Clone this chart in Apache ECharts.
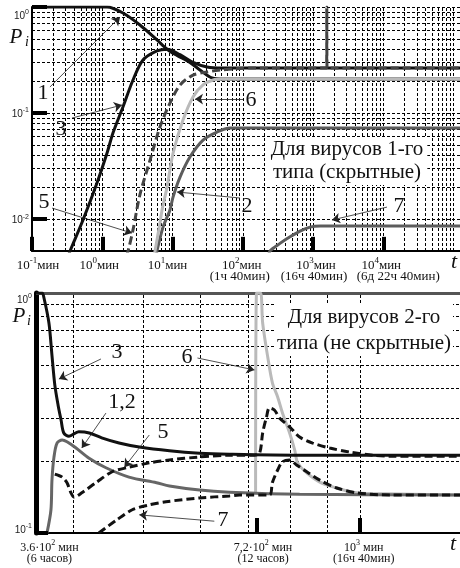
<!DOCTYPE html>
<html>
<head>
<meta charset="utf-8">
<script src="https://cdn.jsdelivr.net/npm/echarts@6/dist/echarts.min.js"></script>
<style>
  html, body { margin: 0; padding: 0; background: #fff; }
  #chart { width: 460px; height: 568px; }
</style>
</head>
<body>
<div id="chart"></div>
<script>
// верхний график: вирусы 1-го типа, t [мин] / P_i, оба оси логарифмические
var topCurve1 = [[0.1, 1], [1.17, 1], [1.97, 0.877], [3.44, 0.676], [6.01, 0.489], [8.36, 0.40], [11.6, 0.35], [17.7, 0.30], [24.6, 0.255], [36.5, 0.214], [55, 0.209], [123700, 0.209]];
var topCurve3 = [[0.33, 0.0045], [0.348, 0.005], [0.532, 0.0098], [0.841, 0.0219], [1.17, 0.042], [1.42, 0.0648], [1.97, 0.114], [2.74, 0.205], [3.8, 0.316], [6.0, 0.385], [8.36, 0.40], [12.8, 0.355], [19.6, 0.30], [31, 0.272], [50, 0.266], [123700, 0.266]];
var topCurve5 = [[2.2, 0.0045], [2.33, 0.005], [2.74, 0.0079], [3.44, 0.017], [4.79, 0.036], [6.63, 0.074], [9.2, 0.124], [12.8, 0.184], [19.6, 0.228], [31, 0.244], [47.4, 0.254], [80, 0.262], [150, 0.266], [1400, 0.266], [1560, 0.266], [1572, 1], [1585, 0.266], [1800, 0.266], [123700, 0.266]];
var topCurve6 = [[5.5, 0.0045], [5.64, 0.005], [6.63, 0.0092], [7.1, 0.0122], [8.36, 0.02], [10.2, 0.042], [14.1, 0.086], [19.6, 0.142], [27.2, 0.184], [37.8, 0.205], [52.4, 0.209], [123700, 0.209]];
var topCurve2 = [[5.9, 0.0045], [6.01, 0.005], [7.33, 0.0084], [9.2, 0.0122], [10.2, 0.0162], [12.8, 0.0249], [17.7, 0.0385], [27.2, 0.0556], [43, 0.0662], [65.8, 0.0722], [123700, 0.0722]];
var topCurve7 = [[235, 0.0045], [244, 0.005], [339, 0.0059], [471, 0.0068], [653, 0.0077], [906, 0.0084], [1259, 0.0086], [123700, 0.0086]];

// нижний график: вирусы 2-го типа
var botCurve3 = [[355, 1], [362, 1], [364, 0.96], [370, 0.75], [373.6, 0.55], [377, 0.414], [381, 0.341], [384.6, 0.296], [388, 0.261], [394.5, 0.253], [407, 0.264], [421, 0.261], [438, 0.249], [463, 0.237], [494, 0.228], [544, 0.22], [599, 0.215], [659, 0.213], [825, 0.211], [1378, 0.211]];
var botCurve12 = [[367.7, 0.1], [372.4, 0.125], [373.6, 0.166], [376, 0.207], [379.7, 0.237], [386, 0.244], [392, 0.24], [403.5, 0.226], [420.7, 0.205], [444, 0.187], [478, 0.171], [522, 0.162], [544, 0.157], [599, 0.151], [659, 0.148], [825, 0.145], [1378, 0.144]];
var botCurve5 = [[377, 0.176], [380, 0.1745], [386, 0.171], [392, 0.162], [397, 0.147], [401, 0.141], [411, 0.147], [430, 0.162], [453, 0.18], [478, 0.188], [510, 0.196], [544, 0.2015], [599, 0.2074], [659, 0.211], [714, 0.211], [726, 0.2154], [733, 0.261], [742, 0.304], [749, 0.332], [761, 0.3255], [774, 0.301], [799, 0.277], [825, 0.251], [860, 0.237], [908, 0.226], [968, 0.2175], [1043, 0.211], [1101, 0.209], [1378, 0.209]];
var botCurve7 = [[434, 0.1], [459, 0.113], [483, 0.125], [510, 0.131], [538, 0.135], [599, 0.14], [659, 0.1427], [681, 0.144], [749, 0.144], [756, 0.162], [769, 0.183], [781, 0.198], [799, 0.2015], [817, 0.192], [844, 0.18], [880, 0.166], [929, 0.154], [990, 0.147], [1101, 0.144], [1378, 0.144]];
var botCurve6 = [[716.6, 0.146], [718.8, 1], [728, 1], [733, 0.75], [745, 0.541], [756.5, 0.42], [769, 0.369], [781, 0.316], [799, 0.261], [812, 0.222], [820, 0.196], [844, 0.178], [880, 0.163], [929, 0.154], [978, 0.148], [1043, 0.146], [1378, 0.144]];

// подписи осей
var topTickValues = [0.1, 1, 10, 100, 1000, 10000];
var topTickPowers = ['-1', '0', '1', '2', '3', '4'];
var topTickNotes = ['', '', '', '(1ч 40мин)', '(16ч 40мин)', '(6д 22ч 40мин)'];
var topYTicks = [1, 0.1, 0.01];
var topYPowers = ['0', '-1', '-2'];
var botTickValues = [360, 720, 1000];
var botTickHeads = ['3.6·10', '7,2·10', '10'];
var botTickPowers = ['2', '2', '3'];
var botTickNotes = ['(6 часов)', '(12 часов)', '(16ч 40мин)'];
var botYTicks = [1, 0.1];
var botYPowers = ['0', '-1'];

// стрелки-выноски (в координатах данных)
var topArrows = [
  [[0.18, 0.176], [1.79, 0.805]],
  [[0.371, 0.0897], [1.91, 0.119]],
  [[0.193, 0.0127], [2.65, 0.00738]],
  [[91.4, 0.0158], [11.6, 0.018]],
  [[101, 0.1355], [20.9, 0.1355]],
  [[11300, 0.01297], [1862, 0.0098]]
];
var botArrows = [
  [[437, 0.531], [382, 0.438]],
  [[595, 0.536], [714, 0.478]],
  [[444, 0.316], [411, 0.226]],
  [[510, 0.256], [471, 0.188]],
  [[628, 0.112], [494, 0.119]]
];

var topGridX = [];
for (var k = -1; k <= 4; k++) {
  for (var n = 1; n <= 9; n++) topGridX.push(n * Math.pow(10, k));
}
topGridX.push(100000);
var topGridY = [0.005, 0.006, 0.007, 0.008, 0.009];
for (var k2 = -2; k2 <= -1; k2++) {
  for (var n2 = 1; n2 <= 9; n2++) topGridY.push(n2 * Math.pow(10, k2));
}
topGridY.push(1);
var botGridX = [400, 500, 600, 700, 800, 900, 1000];
var botGridY = [0.2, 0.3, 0.4, 0.5, 0.6, 0.7, 0.8, 0.9];

var BLACK = '#111';
var DARK = '#5c5c5c';
var LIGHT = '#bababa';
var SERIF = 'Liberation Serif';

function curve(data, g, color, dashed) {
  return {
    type: 'line', xAxisIndex: g, yAxisIndex: g, data: data,
    symbol: 'none', smooth: 0.3, silent: true, z: 3,
    lineStyle: { color: color, width: 3, type: dashed ? [8, 4] : 'solid' }
  };
}

function helper(g, gridX, gridY, ticks, arrows, extra) {
  var lines = gridX.map(function (v) { return { xAxis: v }; })
    .concat(gridY.map(function (v) { return { yAxis: v }; }));
  var list = [{
    type: 'line', xAxisIndex: g, yAxisIndex: g, data: [], silent: true, z: 1,
    markLine: {
      silent: true, symbol: 'none', z: 1, animation: false,
      label: { show: false },
      lineStyle: { color: '#000', width: 1, type: [3, 2] },
      data: lines.concat(extra || [])
    }
  }, {
    type: 'line', xAxisIndex: g, yAxisIndex: g, data: [], silent: true, z: 10,
    markLine: {
      silent: true, symbol: 'none', z: 10, animation: false,
      label: { show: false },
      lineStyle: { color: '#000', width: 4, type: 'solid' },
      data: ticks
    }
  }, {
    type: 'line', xAxisIndex: g, yAxisIndex: g, data: [], silent: true, z: 11,
    markLine: {
      silent: true, symbol: ['none', 'arrow'], symbolSize: 8, z: 11, animation: false,
      label: { show: false },
      itemStyle: { color: '#222' },
      lineStyle: { color: '#222', width: 0.8, type: 'solid' },
      data: arrows.map(function (a) { return [{ coord: a[0] }, { coord: a[1] }]; })
    }
  }];
  return list;
}

var topTicks = topTickValues.map(function (v) { return [{ coord: [v, 0.005] }, { coord: [v, 0.0068] }]; })
  .concat(topYTicks.map(function (v) { return [{ coord: [0.1, v] }, { coord: [0.1635, v] }]; }));
var botTicks = [720, 1000].map(function (v) { return [{ coord: [v, 0.1] }, { coord: [v, 0.1155] }]; })
  .concat([[{ coord: [355, 0.1] }, { coord: [369, 0.1] }]]);
var botFrame = [{ yAxis: 1, lineStyle: { color: '#555', width: 3, type: 'solid' } }];

var axisBase = {
  type: 'log', logBase: 10,
  axisTick: { show: false }, axisLabel: { show: false }, splitLine: { show: false }
};

var option = {
  animation: false,
  backgroundColor: '#fff',
  grid: [
    { left: 32, top: 7, width: 428, height: 244 },
    { left: 36, top: 293, width: 424, height: 240 }
  ],
  xAxis: [
    Object.assign({}, axisBase, { gridIndex: 0, min: 0.1, max: 123700,
      axisLine: { show: true, onZero: false, lineStyle: { color: '#000', width: 2 } } }),
    Object.assign({}, axisBase, { gridIndex: 1, min: 355, max: 1378,
      axisLine: { show: true, onZero: false, lineStyle: { color: '#000', width: 2 } } })
  ],
  yAxis: [
    Object.assign({}, axisBase, { gridIndex: 0, min: 0.005, max: 1,
      axisLine: { show: true, onZero: false, lineStyle: { color: '#000', width: 2 } } }),
    Object.assign({}, axisBase, { gridIndex: 1, min: 0.1, max: 1,
      axisLine: { show: true, onZero: false, lineStyle: { color: '#000', width: 5 } } })
  ],
  series: [].concat(
    helper(0, topGridX, topGridY, topTicks, topArrows),
    helper(1, botGridX, botGridY, botTicks, botArrows, botFrame),
    [
      curve(topCurve1, 0, BLACK),
      curve(topCurve3, 0, BLACK),
      curve(topCurve2, 0, DARK),
      curve(topCurve7, 0, DARK),
      curve(topCurve6, 0, LIGHT),
      curve(topCurve5, 0, '#444', true),
      curve(botCurve6, 1, LIGHT),
      curve(botCurve12, 1, '#666'),
      curve(botCurve3, 1, BLACK),
      curve(botCurve5, 1, BLACK, true),
      curve(botCurve7, 1, BLACK, true)
    ]
  )
};

var myChart = echarts.init(document.getElementById('chart'));
myChart.setOption(option);

function pix(g, x, y) {
  return myChart.convertToPixel({ gridIndex: g }, [x, y]);
}
function txt(x, y, text, style) {
  return {
    type: 'text', x: x, y: y, z: 100, silent: true,
    style: Object.assign({ text: text, fill: '#111', align: 'center', verticalAlign: 'middle',
      fontFamily: SERIF, fontSize: 13 }, style)
  };
}
function supRich(size) {
  return {
    n: { fontFamily: SERIF, fontSize: size, lineHeight: size + 3, verticalAlign: 'bottom', fill: '#111' },
    s: { fontFamily: SERIF, fontSize: size - 4, lineHeight: size - 3, verticalAlign: 'top', fill: '#111' }
  };
}
var ySupRich = {
  n: { fontFamily: 'Liberation Sans', fontSize: 10, lineHeight: 12, verticalAlign: 'bottom', fill: '#222' },
  s: { fontFamily: 'Liberation Sans', fontSize: 7, lineHeight: 8, verticalAlign: 'top', fill: '#222' }
};

var g = [];
var topBottom = pix(0, 0.1, 0.005)[1];
var topLabelDx = [6, -3, -5, -1, 3, -2];
var topNoteDx = [0, 0, 0, -3, 1, 15];
topTickValues.forEach(function (v, i) {
  var x = pix(0, v, 0.005)[0];
  g.push(txt(x + topLabelDx[i], topBottom + 13, '{n|10}{s|' + topTickPowers[i] + '}{n|мин}', { rich: supRich(13) }));
  if (topTickNotes[i]) g.push(txt(x + topNoteDx[i], topBottom + 26, topTickNotes[i]));
});
var topYDy = [8, 0, 0];
topYTicks.forEach(function (v, i) {
  var y = pix(0, 0.1, v)[1];
  g.push(txt(29, y + topYDy[i], '{n|10}{s|' + topYPowers[i] + '}', { rich: ySupRich, align: 'right' }));
});

var botBottom = pix(1, 355, 0.1)[1];
var botLabelDx = [9, 6, 4];
botTickValues.forEach(function (v, i) {
  var x = pix(1, v, 0.1)[0];
  g.push(txt(x + botLabelDx[i], botBottom + 13, '{n|' + botTickHeads[i] + '}{s|' + botTickPowers[i] + '}{n| мин}', { rich: supRich(12) }));
  g.push(txt(x + botLabelDx[i], botBottom + 26, botTickNotes[i], { fontSize: 12 }));
});
var botYDy = [6, -4];
botYTicks.forEach(function (v, i) {
  var y = pix(1, 355, v)[1];
  g.push(txt(32, y + botYDy[i], '{n|10}{s|' + botYPowers[i] + '}', { rich: ySupRich, align: 'right' }));
});

// P_i и t
g.push(txt(16, 37, 'P', { fontSize: 21, fontStyle: 'italic' }));
g.push(txt(27, 42, 'i', { fontSize: 14, fontStyle: 'italic' }));
g.push(txt(19, 316, 'P', { fontSize: 21, fontStyle: 'italic' }));
g.push(txt(29, 321, 'i', { fontSize: 14, fontStyle: 'italic' }));
g.push(txt(454, 262, 't', { fontSize: 22, fontStyle: 'italic' }));
g.push(txt(453, 544, 't', { fontSize: 22, fontStyle: 'italic' }));

// номера кривых
var topNotes = [['1', 43, 93], ['3', 61, 129], ['5', 44, 202], ['2', 247, 206], ['6', 251, 100], ['7', 399, 206]];
var botNotes = [['3', 117, 352], ['6', 187, 357], ['1,2', 122, 402], ['5', 163, 432], ['7', 223, 520]];
topNotes.concat(botNotes).forEach(function (t) {
  g.push(txt(t[1], t[2], t[0], { fontSize: 22 }));
});

g.push(txt(347, 161, 'Для вирусов 1-го\nтипа (скрытные)', {
  fontSize: 21, lineHeight: 23, backgroundColor: '#fff', padding: [1, 4]
}));
g.push(txt(364, 330, 'Для вирусов 2-го\nтипа (не скрытные)', {
  fontSize: 21, lineHeight: 26, backgroundColor: '#fff', padding: [0, 2]
}));

myChart.setOption({ graphic: g });
</script>
</body>
</html>
